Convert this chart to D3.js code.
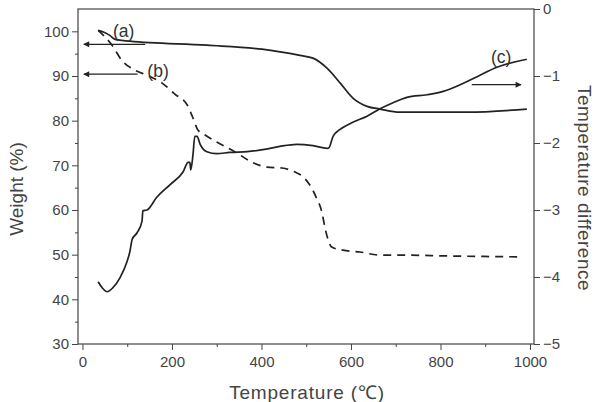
<!DOCTYPE html>
<html>
<head>
<meta charset="utf-8">
<script src="https://cdn.jsdelivr.net/npm/d3@7"></script>
<style>
  body { margin: 0; background: #fff; }
  svg { display: block; font-family: "Liberation Sans", Arial, sans-serif; }
  .tick text { fill: #444; font-size: 15px; }
  .axis path, .axis line { stroke: #444; }
</style>
</head>
<body>
<svg width="595" height="402"></svg>
<script>
// curve (a): TG weight, solid
const tempA   = [35, 48, 61, 73, 106, 278, 401, 486, 515, 547, 576, 605, 636, 665, 709, 770, 859, 993];
const weightA = [100.2, 99.8, 99.1, 98.2, 97.8, 96.9, 96.0, 94.6, 94.0, 91.7, 88.4, 85.0, 83.2, 82.6, 81.9, 81.9, 81.9, 82.6];

// curve (b): weight, dashed
const tempB   = [35, 66, 88, 117, 149, 178, 207, 234, 247, 258, 274, 300, 341, 379, 412, 446, 475, 491, 508, 522, 535, 542, 549, 557, 582, 620, 665, 709, 821, 984];
const weightB = [100.2, 96.9, 93.5, 91.3, 90.0, 88.4, 85.9, 83.5, 80.6, 77.9, 76.8, 75.2, 73.0, 70.7, 69.6, 69.4, 68.5, 67.6, 65.6, 62.9, 59.5, 56.0, 53.3, 51.7, 51.0, 50.6, 49.9, 49.9, 49.7, 49.5];

// curve (c): temperature difference, solid, right axis
const tempC = [35, 44, 55, 68, 84, 99, 106, 111, 122, 133, 135, 144, 166, 196, 225, 236, 240, 242, 247, 251, 256, 263, 278, 300, 329, 368, 403, 441, 479, 515, 547, 551, 560, 569, 582, 604, 636, 665, 694, 725, 770, 806, 844, 882, 926, 993];
const diffC = [-4.07, -4.16, -4.22, -4.16, -4.01, -3.78, -3.62, -3.44, -3.34, -3.17, -3.01, -3.0, -2.81, -2.62, -2.43, -2.29, -2.29, -2.40, -2.17, -1.90, -1.90, -2.02, -2.13, -2.16, -2.14, -2.13, -2.10, -2.05, -2.02, -2.04, -2.08, -2.07, -1.90, -1.83, -1.77, -1.69, -1.60, -1.49, -1.40, -1.32, -1.28, -1.23, -1.13, -1.01, -0.87, -0.75];

const xTicks = [0, 200, 400, 600, 800, 1000];
const xMinor = [100, 300, 500, 700, 900];
const weightTicks = [30, 40, 50, 60, 70, 80, 90, 100];
const weightMinor = [35, 45, 55, 65, 75, 85, 95];
const diffTicks = [0, -1, -2, -3, -4, -5];

const svg = d3.select("svg");
const width = +svg.attr("width");
const height = +svg.attr("height");
const margin = { top: 9, right: 61, bottom: 58, left: 78 };

const x = d3.scaleLinear().domain([-10, 1009]).range([margin.left, width - margin.right]);
const yW = d3.scaleLinear().domain([30, 105]).range([height - margin.bottom, margin.top]);
const yD = d3.scaleLinear().domain([-5, 0]).range([height - margin.bottom, margin.top]);
const fmt = d3.format("d");

// frame
svg.append("rect")
    .attr("x", margin.left).attr("y", margin.top)
    .attr("width", width - margin.left - margin.right)
    .attr("height", height - margin.top - margin.bottom)
    .attr("fill", "none").attr("stroke", "#444").attr("stroke-width", 1.2);

// axes
const bottom = svg.append("g").attr("class", "axis")
    .attr("transform", `translate(0,${height - margin.bottom})`);
bottom.call(d3.axisBottom(x).tickValues(xTicks).tickFormat(fmt).tickSize(6).tickPadding(6));
bottom.append("g").call(d3.axisBottom(x).tickValues(xMinor).tickSize(3).tickFormat(""));

const left = svg.append("g").attr("class", "axis")
    .attr("transform", `translate(${margin.left},0)`);
left.call(d3.axisLeft(yW).tickValues(weightTicks).tickFormat(fmt).tickSize(6).tickPadding(3));
left.append("g").call(d3.axisLeft(yW).tickValues(weightMinor).tickSize(3).tickFormat(""));

const right = svg.append("g").attr("class", "axis")
    .attr("transform", `translate(${width - margin.right},0)`);
right.call(d3.axisRight(yD).tickValues(diffTicks).tickFormat(fmt).tickSize(6).tickPadding(3));

svg.selectAll(".axis .domain").remove();

// axis titles
svg.append("text")
    .attr("x", 307)
    .attr("y", 399)
    .attr("text-anchor", "middle")
    .attr("fill", "#444").attr("font-size", 19).attr("letter-spacing", 0.8)
    .text("Temperature (℃)");

svg.append("text")
    .attr("transform", "translate(23,189) rotate(-90)")
    .attr("text-anchor", "middle")
    .attr("fill", "#444").attr("font-size", 19)
    .text("Weight (%)");

svg.append("text")
    .attr("transform", "translate(578,188) rotate(90)")
    .attr("text-anchor", "middle")
    .attr("fill", "#444").attr("font-size", 19).attr("letter-spacing", 0.5)
    .text("Temperature difference");

// curves
const line = (xs, ys, yScale) => d3.line()
    .x((d, i) => x(xs[i]))
    .y((d, i) => yScale(ys[i]))
    .curve(d3.curveMonotoneX)(xs);

svg.append("path").attr("d", line(tempA, weightA, yW))
    .attr("fill", "none").attr("stroke", "#222").attr("stroke-width", 1.7);
svg.append("path").attr("d", line(tempB, weightB, yW))
    .attr("fill", "none").attr("stroke", "#222").attr("stroke-width", 1.7)
    .attr("stroke-dasharray", "8,6");
svg.append("path").attr("d", line(tempC, diffC, yD))
    .attr("fill", "none").attr("stroke", "#222").attr("stroke-width", 1.7);

// arrows and labels
svg.append("defs").append("marker")
    .attr("id", "head").attr("viewBox", "0 0 10 10")
    .attr("refX", 9).attr("refY", 5)
    .attr("markerWidth", 8).attr("markerHeight", 6)
    .attr("markerUnits", "userSpaceOnUse")
    .attr("orient", "auto")
    .append("path").attr("d", "M0,0L10,5L0,10Z").attr("fill", "#222");

const arrow = (t0, t1, yv) => svg.append("line")
    .attr("x1", x(t0)).attr("x2", x(t1))
    .attr("y1", yv).attr("y2", yv)
    .attr("stroke", "#222").attr("stroke-width", 1.3)
    .attr("marker-end", "url(#head)");

arrow(140, 3, yW(97.1));
arrow(123, 3, yW(90.4));
arrow(870, 980, yD(-1.13));

const label = (t, yv, s) => svg.append("text")
    .attr("x", x(t)).attr("y", yv)
    .attr("fill", "#333").attr("font-size", 17.5)
    .text(s);

label(68, yW(98.8), "(a)");
label(145, yW(89.8), "(b)");
label(913, yD(-0.8), "(c)");
</script>
</body>
</html>
